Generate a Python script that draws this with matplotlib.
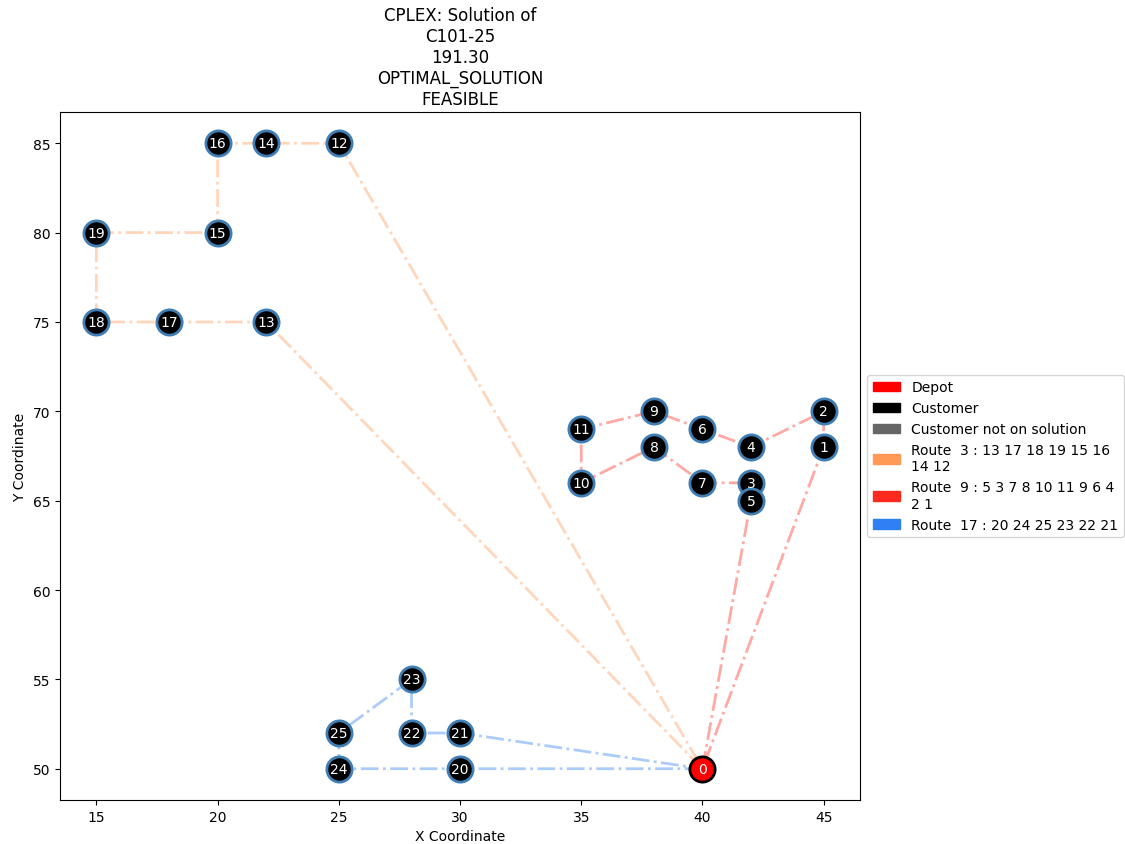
import matplotlib as mpl
mpl.use('Agg')
import matplotlib.pyplot as plt
import matplotlib.patches as mpatches

# Node coordinates (C101-25), node 0 is the depot
node_x = [40, 45, 45, 42, 42, 42, 40, 40, 38, 38, 35, 35, 25, 22, 22, 20, 20, 18, 15, 15, 30, 30, 28, 28, 25, 25]
node_y = [50, 68, 70, 66, 68, 65, 69, 66, 68, 70, 66, 69, 85, 75, 85, 80, 85, 75, 75, 80, 50, 52, 52, 55, 50, 52]

# Routes found by the solver
route_ids = [3, 9, 17]
routes = [[13, 17, 18, 19, 15, 16, 14, 12],
          [5, 3, 7, 8, 10, 11, 9, 6, 4, 2, 1],
          [20, 24, 25, 23, 22, 21]]
route_colors = ['#ff9955', '#ff2a1f', '#2f80f5']

title_lines = ['CPLEX: Solution of', 'C101-25', '191.30', 'OPTIMAL_SOLUTION', 'FEASIBLE']

fig = plt.figure(figsize=(11.25, 8.45), dpi=100)
ax = fig.add_axes([60/1125, 44/845, 800/1125, 688/845])

# Route lines
for rid, route, col in zip(route_ids, routes, route_colors):
    path = [0] + route + [0]
    ax.plot([node_x[i] for i in path], [node_y[i] for i in path], linestyle='-.',
            linewidth=2, color=col, alpha=0.4, zorder=1)

# Customers
ax.scatter(node_x[1:], node_y[1:], s=330, color='black', edgecolor='#3f7fb5', linewidth=2, zorder=3)
# Depot
ax.scatter([node_x[0]], [node_y[0]], s=330, color='red', edgecolor='black', linewidth=2, zorder=3)

for i in range(len(node_x)):
    ax.text(node_x[i], node_y[i], str(i), color='white', fontsize=10, ha='center', va='center', zorder=4)

ax.set_xlabel('X Coordinate')
ax.set_ylabel('Y Coordinate')
ax.set_title('\n'.join(title_lines), fontsize=12)

# Legend
handles = [mpatches.Patch(color='red', label='Depot'),
           mpatches.Patch(color='black', label='Customer'),
           mpatches.Patch(color='#666666', label='Customer not on solution')]
for rid, route, col in zip(route_ids, routes, route_colors):
    label = 'Route  ' + str(rid) + ' : ' + ' '.join(str(n) for n in route)
    # wrap long labels like the original
    words = label.split(' ')
    lines, cur = [], ''
    for w in words:
        test = (cur + ' ' + w) if cur != '' else w
        if len(test) > 30 and cur != '':
            lines.append(cur)
            cur = w
        else:
            cur = test
    lines.append(cur)
    handles.append(mpatches.Patch(color=col, label='\n'.join(lines)))
ax.legend(handles=handles, loc='center left', bbox_to_anchor=(1.0, 0.5))

plt.savefig('out.png', dpi=100)
plt.close()
